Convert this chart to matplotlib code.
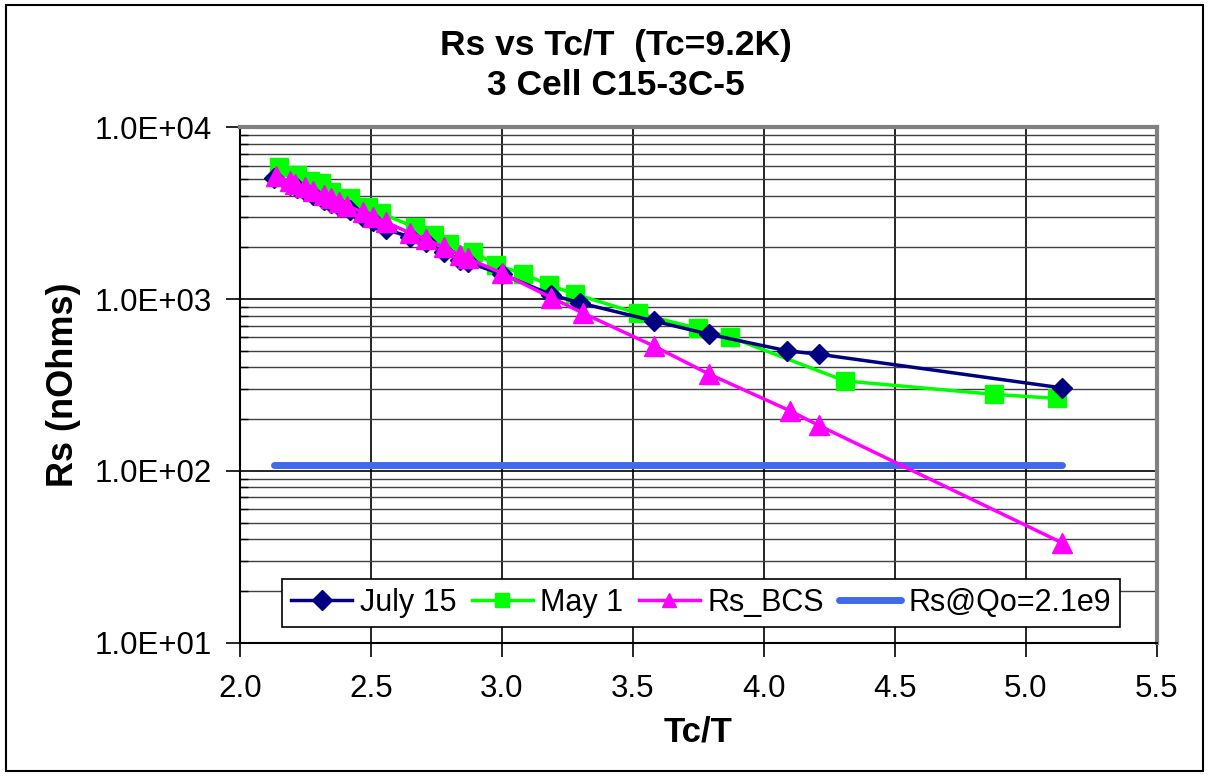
import matplotlib.pyplot as plt
from matplotlib.patches import Rectangle
from matplotlib.ticker import FixedLocator, LogLocator, NullFormatter

plt.rcParams['font.family'] = ['Liberation Sans', 'DejaVu Sans']

# data
july_x = [2.13, 2.19, 2.22, 2.25, 2.28, 2.32, 2.35, 2.38, 2.42, 2.47, 2.51, 2.56,
          2.65, 2.71, 2.78, 2.84, 2.87, 3.00, 3.19, 3.30, 3.58, 3.79, 4.09, 4.21, 5.14]
july_y = [5050, 4650, 4450, 4250, 4050, 3800, 3650, 3480, 3300, 3000, 2850, 2550,
          2300, 2150, 1880, 1700, 1640, 1400, 1060, 950, 747, 625, 500, 478, 304]

may_x = [2.15, 2.22, 2.27, 2.31, 2.35, 2.42, 2.49, 2.54, 2.67, 2.74, 2.80, 2.89,
         2.98, 3.08, 3.18, 3.28, 3.52, 3.75, 3.87, 4.31, 4.88, 5.12]
may_y = [5900, 5280, 4900, 4730, 4230, 3870, 3450, 3160, 2620, 2360, 2110, 1890,
         1580, 1410, 1210, 1070, 826, 675, 603, 334, 279, 264]

bcs_x = [2.14, 2.19, 2.21, 2.25, 2.28, 2.32, 2.35, 2.38, 2.41, 2.47, 2.51, 2.56,
         2.65, 2.71, 2.78, 2.84, 2.87, 3.00, 3.19, 3.31, 3.58, 3.79, 4.10, 4.21, 5.14]
bcs_y = [5250, 4850, 4670, 4480, 4290, 4040, 3870, 3690, 3500, 3210, 3030, 2800,
         2430, 2240, 2000, 1810, 1730, 1420, 1020, 830, 534, 367, 224, 184, 38]

qo_x = [2.13, 5.14]
qo_y = [108, 108]

xticks = [2.0, 2.5, 3.0, 3.5, 4.0, 4.5, 5.0, 5.5]
xtick_labels = ['2.0', '2.5', '3.0', '3.5', '4.0', '4.5', '5.0', '5.5']
yticks = [10, 100, 1000, 10000]
ytick_labels = ['1.0E+01', '1.0E+02', '1.0E+03', '1.0E+04']

fig = plt.figure(figsize=(12.09, 7.76), dpi=100)
ax = fig.add_axes([0.1983, 0.172, 0.7584, 0.6637])

ax.plot(july_x, july_y, color='#000080', lw=2.5, marker='D', ms=10, label='July 15', zorder=5)
ax.plot(may_x, may_y, color='#00FF00', lw=2.5, marker='s', ms=13, label='May 1', zorder=4)
ax.plot(bcs_x, bcs_y, color='#FF00FF', lw=2.5, marker='^', ms=15, label='Rs_BCS', zorder=6)
ax.plot(qo_x, qo_y, color='#4169F0', lw=5, solid_capstyle='round', label='Rs@Qo=2.1e9', zorder=3)

ax.set_yscale('log')
ax.set_xlim(2.0, 5.5)
ax.set_ylim(10, 10000)
ax.xaxis.set_major_locator(FixedLocator(xticks))
ax.set_xticklabels(xtick_labels)
ax.yaxis.set_major_locator(FixedLocator(yticks))
ax.set_yticklabels(ytick_labels)
ax.yaxis.set_minor_locator(LogLocator(base=10, subs=range(2, 10)))
ax.yaxis.set_minor_formatter(NullFormatter())

ax.grid(True, which='major', axis='both', color='black', lw=1.2)
ax.grid(True, which='minor', axis='y', color='#404040', lw=1.0)
ax.set_axisbelow(True)

ax.tick_params(axis='both', which='major', direction='out', length=10, width=1.2,
               labelsize=22.5)
ax.tick_params(axis='x', which='major', pad=13)
ax.tick_params(axis='y', which='major', pad=10)
ax.tick_params(axis='y', which='minor', direction='in', length=6, width=1.0)

for s in ['left', 'bottom']:
    ax.spines[s].set_color('black')
    ax.spines[s].set_linewidth(1.5)
for s in ['top', 'right']:
    ax.spines[s].set_color('#808080')
    ax.spines[s].set_linewidth(3)

ax.set_xlabel('Tc/T', fontsize=25, fontweight='bold')
ax.xaxis.label.set_va('baseline')
ax.xaxis.set_label_coords(0.5, -0.1926)
ax.set_ylabel('Rs (nOhms)', fontsize=26, fontweight='bold')
ax.yaxis.label.set_va('center')
ax.yaxis.set_label_coords(-0.1927, 0.5)

fig.text(0.509, 0.9291, 'Rs vs Tc/T  (Tc=9.2K)', ha='center', va='baseline',
         fontsize=25.5, fontweight='bold')
fig.text(0.509, 0.8776, '3 Cell C15-3C-5', ha='center', va='baseline',
         fontsize=25.5, fontweight='bold')

leg = ax.legend(loc='center', bbox_to_anchor=(0.503, 0.0767), ncol=4,
                fontsize=22, frameon=True, fancybox=False, edgecolor='black',
                framealpha=1, handlelength=2.0, handletextpad=0.25, columnspacing=0.5,
                borderpad=0.3, borderaxespad=0)
leg.get_frame().set_linewidth(1.2)
leg.set_zorder(10)
for h in leg.legend_handles:
    h.set_markersize(10)

fig.patches.append(Rectangle((0.005, 0.006), 0.99, 0.988, transform=fig.transFigure,
                             fill=False, edgecolor='black', lw=1.5))

fig.savefig('out.png', dpi=100)
